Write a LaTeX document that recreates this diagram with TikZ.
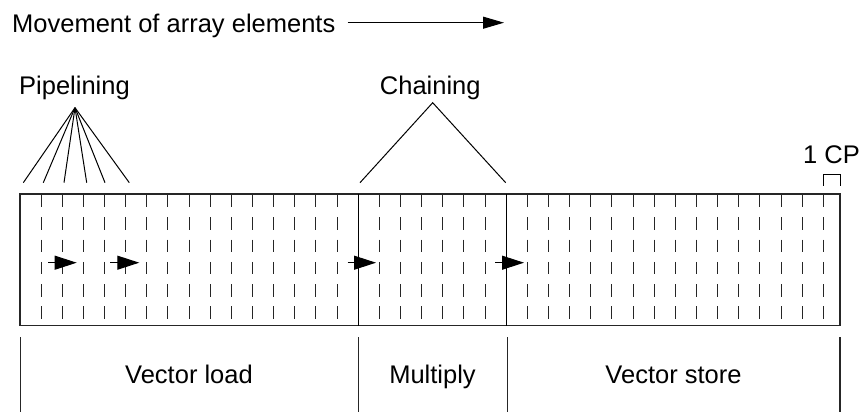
\documentclass[tikz,border=0pt]{standalone}
\usepackage{fontspec}
\setmainfont{Liberation Sans}
\usetikzlibrary{arrows.meta}
\begin{document}
\begin{tikzpicture}[x=1pt,y=-1pt,
  lbl/.style={inner sep=0pt, font=\fontsize{25.5}{30}\selectfont},
  frame/.style={line width=1.5pt, draw=black!85},
  col/.style={line width=1pt, draw=black!85, dash pattern=on 12.5pt off 9.8pt},
  con/.style={line width=1pt},
  bar/.style={line width=1.3pt, draw=black!85},
  flow/.style={line width=1pt, -{Triangle[length=22pt,width=14pt]}},
  topflow/.style={line width=1pt, -{Triangle[length=21pt,width=12pt]}},
]
\useasboundingbox (0,0) rectangle (868,414);

% heading with arrow
\node[lbl, anchor=base west] (mv) at (12,32.3) {Movement of array elements};
\coordinate (mvA) at (347.7,22.7);
\coordinate (mvB) at (504,22.7);
\draw[topflow] (mvA) -- (mvB);

% pipelining fan
\node[lbl, anchor=base west] (pipe) at (19,94.3) {Pipelining};
\coordinate (pA) at (75,107.7);
\foreach \x [count=\i] in {23.3,43.3,64,86.7,105,129.3}{
  \coordinate (pB\i) at (\x,182.7);
  \draw[con] (pA) -- (pB\i);
}

% chaining
\node[lbl, anchor=base] (chain) at (430.3,94.3) {Chaining};
\coordinate (cA) at (432.7,102.7);
\coordinate (cL) at (360,182.7);
\coordinate (cR) at (505.7,182.7);
\draw[con] (cL) -- (cA) -- (cR);

% 1 CP
\node[lbl, anchor=base west] (cp) at (803,163.3) {1 CP};
\coordinate (b1) at (823.3,186);
\coordinate (b2) at (823.3,175);
\coordinate (b3) at (840,175);
\coordinate (b4) at (840,186);
\draw[con] (b1) -- (b2) -- (b3) -- (b4);

% dashed columns
\foreach \n in {1,...,38}{
  \ifnum\n=16\relax\else\ifnum\n=23\relax\else
    \draw[col] ({20+21.14*\n},195) -- ({20+21.14*\n},320);
  \fi\fi
}

% main frame
\coordinate (fTL) at (20,194);
\coordinate (fBR) at (840,325.7);
\draw[frame] (fTL) rectangle (fBR);
\coordinate (d1t) at (358.3,194);
\coordinate (d1b) at (358.3,325.7);
\coordinate (d2t) at (506.7,194);
\coordinate (d2b) at (506.7,325.7);
\draw[con] (d1t) -- (d1b);
\draw[con] (d2t) -- (d2b);

% arrows inside
\foreach \s/\e [count=\i] in {48.3/76.7, 110/139.3, 347.7/376, 495/524}{
  \coordinate (aS\i) at (\s,262.7);
  \coordinate (aE\i) at (\e,262.7);
  \draw[flow] (aS\i) -- (aE\i);
}

% bottom bar
\foreach \x [count=\i] in {20.7,358.3,507.3,840}{
  \coordinate (gT\i) at (\x,337.3);
  \coordinate (gB\i) at (\x,411.7);
  \draw[bar] (gT\i) -- (gB\i);
}
\node[lbl, anchor=base] (vl) at (189,383) {Vector load};
\node[lbl, anchor=base] (mu) at (432.5,383) {Multiply};
\node[lbl, anchor=base] (vs) at (673.5,383) {Vector store};
\end{tikzpicture}
\end{document}
